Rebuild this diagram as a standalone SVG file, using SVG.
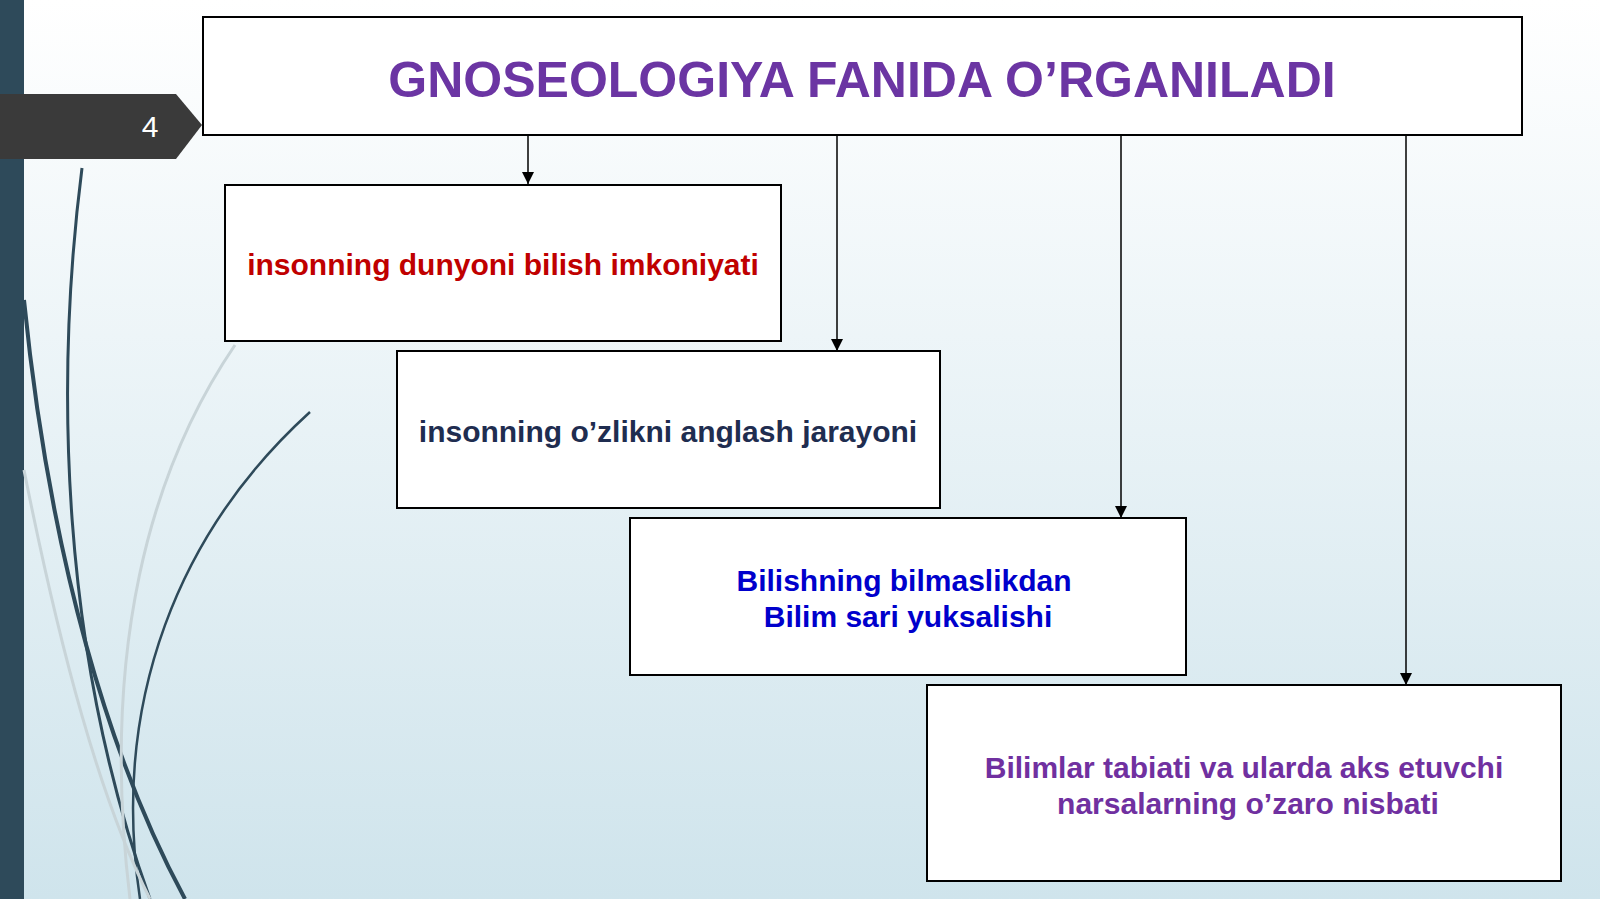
<svg xmlns="http://www.w3.org/2000/svg" width="1600" height="899" viewBox="0 0 1600 899">
<defs>
<linearGradient id="bg" x1="0" y1="0" x2="0" y2="1"><stop offset="0" stop-color="#ffffff"/><stop offset="1" stop-color="#cfe4ec"/></linearGradient>
<marker id="ah" viewBox="0 0 10 10" refX="10" refY="5" markerWidth="8" markerHeight="8" orient="auto"><path d="M0,0 L10,5 L0,10 z" fill="#000"/></marker>
<style>
.box{fill:#fff;stroke:#000;stroke-width:2}
.t{font-family:"Liberation Sans",Arial,sans-serif;font-weight:bold;text-anchor:middle}
.c{stroke:#000;stroke-width:1.5;fill:none;marker-end:url(#ah)}
.cv{fill:none;stroke:#2e4a5a}
</style>
</defs>
<rect width="1600" height="899" fill="url(#bg)"/>
<rect x="0" y="0" width="24" height="899" fill="#2e4a5a"/>
<g id="decor">
<path class="cv" stroke-width="3" d="M82,168 C55,380 60,650 150,899"/>
<path class="cv" stroke-width="4" d="M24,300 C50,560 110,760 185,899"/>
<path class="cv" stroke-width="2.5" d="M310,412 C180,530 110,700 140,899"/>
<path fill="none" stroke="#c8d4d8" stroke-width="3" d="M235,345 C150,470 100,650 130,899"/>
<path fill="none" stroke="#c8d4d8" stroke-width="3" d="M24,470 C60,650 100,800 150,899"/>
</g>
<g id="page"><path d="M0,94 L176,94 L202,125 L176,159 L0,159 z" fill="#3a3a3a"/>
<text x="150" y="137" font-family="Liberation Sans,Arial,sans-serif" font-size="30" fill="#fff" text-anchor="middle">4</text></g>
<g id="connectors">
<line class="c" x1="528" y1="135" x2="528" y2="184"/>
<line class="c" x1="837" y1="135" x2="837" y2="351"/>
<line class="c" x1="1121" y1="135" x2="1121" y2="518"/>
<line class="c" x1="1406" y1="135" x2="1406" y2="685"/>
</g>
<g id="title"><rect class="box" x="203" y="17" width="1319" height="118"/>
<text class="t" x="862" y="97" font-size="50" fill="#6b35a3">GNOSEOLOGIYA FANIDA O’RGANILADI</text></g>
<g id="n1"><rect class="box" x="225" y="185" width="556" height="156"/>
<text class="t" x="503" y="275" font-size="30" fill="#c00000">insonning dunyoni bilish imkoniyati</text></g>
<g id="n2"><rect class="box" x="397" y="351" width="543" height="157"/>
<text class="t" x="668" y="442" font-size="30" fill="#1f2d50">insonning o’zlikni anglash jarayoni</text></g>
<g id="n3"><rect class="box" x="630" y="518" width="556" height="157"/>
<text class="t" x="904" y="591" font-size="30" fill="#0000cc">Bilishning bilmaslikdan</text>
<text class="t" x="908" y="627" font-size="30" fill="#0000cc">Bilim sari yuksalishi</text></g>
<g id="n4"><rect class="box" x="927" y="685" width="634" height="196"/>
<text class="t" x="1244" y="778" font-size="30" fill="#7030a0">Bilimlar tabiati va ularda aks etuvchi</text>
<text class="t" x="1248" y="814" font-size="30" fill="#7030a0">narsalarning o’zaro nisbati</text></g>
</svg>
